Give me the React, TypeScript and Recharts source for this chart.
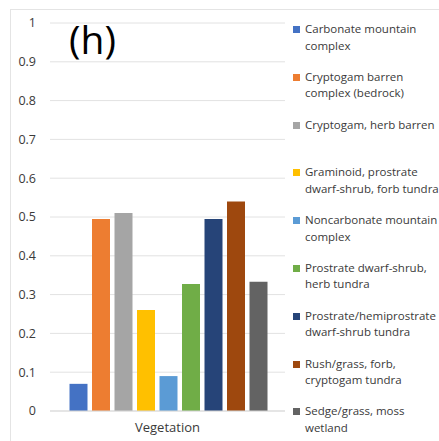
import { BarChart, Bar, XAxis, YAxis, CartesianGrid } from 'recharts';

const CATEGORIES = ['Vegetation'];
const SERIES_NAMES = [
  'Carbonate mountain complex',
  'Cryptogam barren complex (bedrock)',
  'Cryptogam, herb barren',
  'Graminoid, prostrate dwarf-shrub, forb tundra',
  'Noncarbonate mountain complex',
  'Prostrate dwarf-shrub, herb tundra',
  'Prostrate/hemiprostrate dwarf-shrub tundra',
  'Rush/grass, forb, cryptogam tundra',
  'Sedge/grass, moss wetland',
];
// how the legend wraps each name
const LEGEND_LINES = [
  ['Carbonate mountain', 'complex'],
  ['Cryptogam barren', 'complex (bedrock)'],
  ['Cryptogam, herb barren'],
  ['Graminoid, prostrate', 'dwarf-shrub, forb tundra'],
  ['Noncarbonate mountain', 'complex'],
  ['Prostrate dwarf-shrub,', 'herb tundra'],
  ['Prostrate/hemiprostrate', 'dwarf-shrub tundra'],
  ['Rush/grass, forb,', 'cryptogam tundra'],
  ['Sedge/grass, moss', 'wetland'],
];
const VALUES = [0.07, 0.495, 0.51, 0.26, 0.09, 0.327, 0.495, 0.54, 0.333];
const Y_TICKS = [0, 0.1, 0.2, 0.3, 0.4, 0.5, 0.6, 0.7, 0.8, 0.9, 1];
const COLORS = ['#4472C4', '#ED7D31', '#A5A5A5', '#FFC000', '#5B9BD5', '#70AD47', '#264478', '#9E480E', '#636363'];

const data = CATEGORIES.map((name) => {
  const row: Record<string, string | number> = { name };
  SERIES_NAMES.forEach((s, i) => {
    row[s] = VALUES[i];
  });
  return row;
});

const FONT = '"Open Sans", sans-serif';

function LegendBox() {
  return (
    <div
      style={{
        position: 'absolute',
        left: 293,
        top: 21,
        fontFamily: FONT,
        fontSize: 11.5,
        color: '#3a3a3a',
      }}
    >
      {SERIES_NAMES.map((s, i) => (
        <div key={s} style={{ position: 'relative', height: 47.8, paddingLeft: 12, whiteSpace: 'nowrap' }}>
          <span
            style={{
              position: 'absolute',
              left: 0,
              top: 5,
              width: 7,
              height: 7,
              background: COLORS[i],
            }}
          />
          {LEGEND_LINES[i].map((l) => (
            <div key={l} style={{ lineHeight: '16.5px' }}>{l}</div>
          ))}
        </div>
      ))}
    </div>
  );
}

export default function App() {
  return (
    <div
      style={{
        position: 'fixed',
        left: 0,
        top: 0,
        width: 439,
        height: 441,
        overflow: 'hidden',
        background: '#fff',
      }}
    >
      <div
        style={{
          position: 'absolute',
          left: 10,
          top: 9,
          width: 500,
          height: 500,
          borderLeft: '1px solid #e4e4e4',
          borderTop: '1px solid #e4e4e4',
        }}
      />
      <BarChart
        width={439}
        height={441}
        data={data}
        margin={{ top: 23, right: 154, bottom: 0, left: 0 }}
        barGap={4.5}
        barCategoryGap={19.5}
      >
        <CartesianGrid vertical={false} stroke="#e2e2e2" />
        <XAxis
          dataKey="name"
          height={30}
          tickLine={false}
          axisLine={{ stroke: '#d9d9d9' }}
          tickMargin={6}
          tick={{ fill: '#3a3a3a', fontSize: 13, fontFamily: FONT }}
        />
        <YAxis
          width={50}
          domain={[0, 1]}
          ticks={Y_TICKS}
          axisLine={false}
          tickLine={false}
          tickMargin={8}
          tick={{ fill: '#3a3a3a', fontSize: 12.5, fontFamily: FONT }}
        />
        {SERIES_NAMES.map((s, i) => (
          <Bar key={s} dataKey={s} fill={COLORS[i]} isAnimationActive={false} />
        ))}
      </BarChart>
      <LegendBox />
      <div
        style={{
          position: 'absolute',
          left: 69,
          top: 12,
          fontFamily: FONT,
          fontSize: 39,
          color: '#000',
        }}
      >
        (h)
      </div>
    </div>
  );
}
